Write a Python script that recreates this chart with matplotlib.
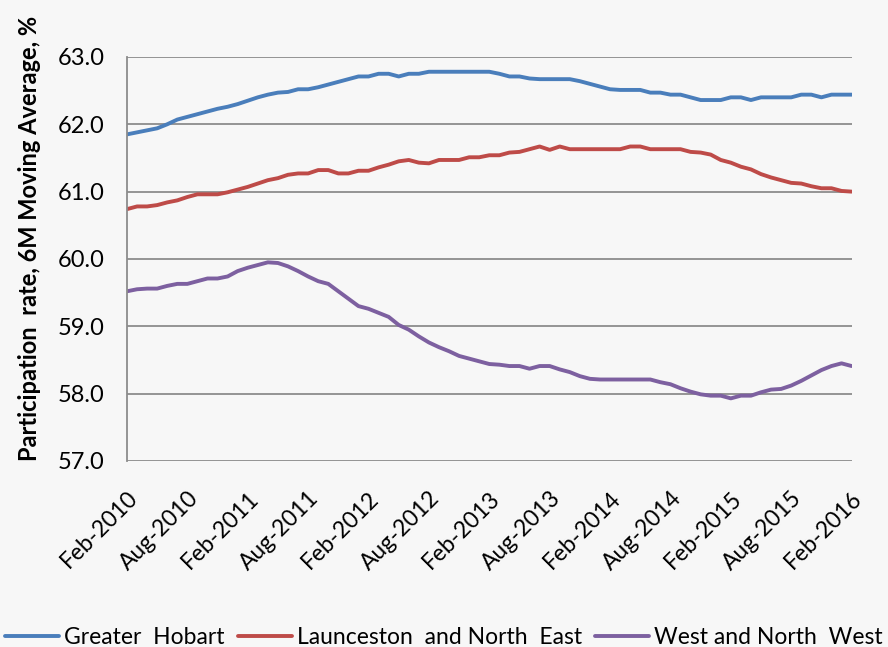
import matplotlib.pyplot as plt
import pandas as pd

months = pd.date_range('2010-02-01', '2016-02-01', freq='MS')
tick_labels = ['Feb-2010', 'Aug-2010', 'Feb-2011', 'Aug-2011', 'Feb-2012', 'Aug-2012',
               'Feb-2013', 'Aug-2013', 'Feb-2014', 'Aug-2014', 'Feb-2015', 'Aug-2015',
               'Feb-2016']

hobart = [61.85, 61.88, 61.91, 61.94, 62.00, 62.07, 62.11, 62.15, 62.19, 62.23,
          62.26, 62.30, 62.35, 62.40, 62.44, 62.47, 62.48, 62.52, 62.52, 62.55,
          62.59, 62.63, 62.67, 62.71, 62.71, 62.75, 62.75, 62.71, 62.75, 62.75,
          62.78, 62.78, 62.78, 62.78, 62.78, 62.78, 62.78, 62.75, 62.71, 62.71,
          62.68, 62.67, 62.67, 62.67, 62.67, 62.64, 62.60, 62.56, 62.52, 62.51,
          62.51, 62.51, 62.47, 62.47, 62.44, 62.44, 62.40, 62.36, 62.36, 62.36,
          62.40, 62.40, 62.36, 62.40, 62.40, 62.40, 62.40, 62.44, 62.44, 62.40,
          62.44, 62.44, 62.44]

launceston = [60.74, 60.78, 60.78, 60.80, 60.84, 60.87, 60.92, 60.96, 60.96, 60.96,
              60.99, 61.03, 61.07, 61.12, 61.17, 61.20, 61.25, 61.27, 61.27, 61.32,
              61.32, 61.27, 61.27, 61.31, 61.31, 61.36, 61.40, 61.45, 61.47, 61.43,
              61.42, 61.47, 61.47, 61.47, 61.51, 61.51, 61.54, 61.54, 61.58, 61.59,
              61.63, 61.67, 61.62, 61.67, 61.63, 61.63, 61.63, 61.63, 61.63, 61.63,
              61.67, 61.67, 61.63, 61.63, 61.63, 61.63, 61.59, 61.58, 61.55, 61.47,
              61.43, 61.37, 61.33, 61.26, 61.21, 61.17, 61.13, 61.12, 61.08, 61.05,
              61.05, 61.01, 61.00]

west = [59.52, 59.55, 59.56, 59.56, 59.60, 59.63, 59.63, 59.67, 59.71, 59.71,
        59.74, 59.82, 59.87, 59.91, 59.95, 59.94, 59.89, 59.82, 59.74, 59.67,
        59.63, 59.52, 59.41, 59.30, 59.26, 59.20, 59.14, 59.02, 58.95, 58.85,
        58.76, 58.69, 58.63, 58.56, 58.52, 58.48, 58.44, 58.43, 58.41, 58.41,
        58.37, 58.41, 58.41, 58.36, 58.32, 58.26, 58.22, 58.21, 58.21, 58.21,
        58.21, 58.21, 58.21, 58.17, 58.14, 58.08, 58.03, 57.99, 57.97, 57.97,
        57.93, 57.97, 57.97, 58.02, 58.06, 58.07, 58.12, 58.19, 58.27, 58.35,
        58.41, 58.45, 58.41]

df = pd.DataFrame({'Greater  Hobart': hobart,
                   'Launceston  and North  East': launceston,
                   'West and North  West': west}, index=months)
colors = ['#4a7ebb', '#be4b48', '#7d60a0']

plt.rcParams['font.family'] = ['Lato', 'DejaVu Sans']
bg = '#f7f7f7'
fig = plt.figure(figsize=(8.88, 6.47), dpi=100, facecolor=bg)
ax = fig.add_axes([0.143, 0.2875, 0.816, 0.6245], facecolor=bg)

x = range(len(df))
for col, c in zip(df.columns, colors):
    ax.plot(x, df[col], color=c, linewidth=2.8, label=col, solid_capstyle='round')

ax.set_xlim(0, len(df) - 1)
ax.set_ylim(57, 63)
ax.set_yticks([57, 58, 59, 60, 61, 62, 63])
ax.set_yticklabels([f'{v:.1f}' for v in [57, 58, 59, 60, 61, 62, 63]], fontsize=17)
ax.set_xticks(list(range(0, len(df), 6)))
ax.set_xticklabels(tick_labels, rotation=45, ha='right', va='top',
                   rotation_mode='anchor', fontsize=16.5)
ax.tick_params(axis='both', length=0)
ax.tick_params(axis='y', pad=16)
ax.tick_params(axis='x', pad=19)

ax.grid(axis='y', color='#8c8c8c', linewidth=1.3)
ax.set_axisbelow(True)
for s in ['top', 'right', 'bottom']:
    ax.spines[s].set_visible(False)
ax.spines['left'].set_color('#8c8c8c')
ax.spines['left'].set_linewidth(1.3)

ax.set_ylabel('Participation  rate, 6M Moving Average, %', fontsize=17,
              fontweight='bold')
ax.yaxis.set_label_coords(-0.118, 0.552)

fig.legend(loc='lower center', bbox_to_anchor=(0.5, -0.034), ncol=3, frameon=False,
           fontsize=16.5, handlelength=2.35, columnspacing=0.6, handletextpad=0.2)

plt.savefig('out.png', dpi=100, facecolor=bg)
